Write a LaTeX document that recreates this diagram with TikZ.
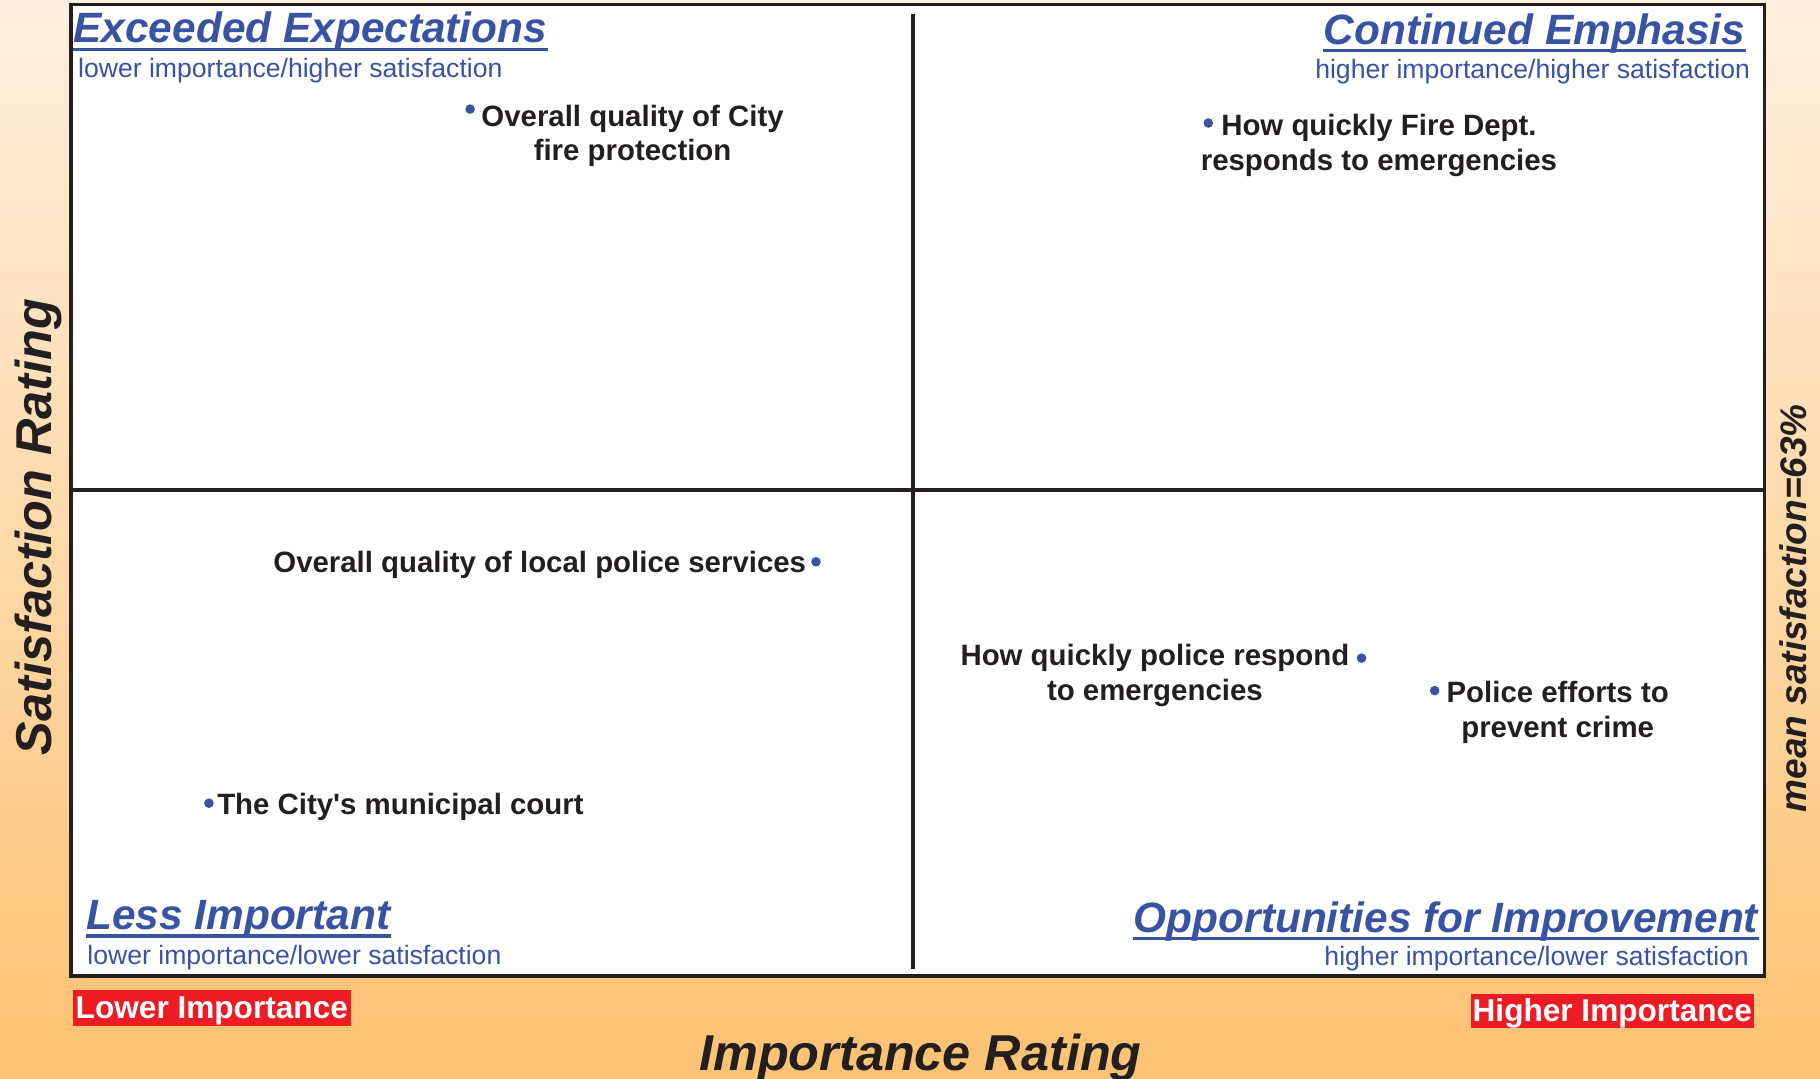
\documentclass[tikz,border=0pt]{standalone}
\usepackage{fontspec}
\setmainfont{Liberation Sans}
\usetikzlibrary{calc}
\definecolor{qblue}{HTML}{3953A4}
\definecolor{qred}{HTML}{ED1C24}
\definecolor{ink}{HTML}{231F20}
\definecolor{bgtop}{HTML}{FEF0E0}
\definecolor{bgbot}{HTML}{FDC272}
\begin{document}
\begin{tikzpicture}[x=0.58035pt,y=-0.58035pt,
  qtitle/.style={inner sep=0pt,text=qblue,font=\fontsize{21.2pt}{24pt}\selectfont\bfseries\itshape},
  qsub/.style={inner sep=0pt,text=qblue,font=\fontsize{13.3pt}{15pt}\selectfont},
  uline/.style={draw=qblue,line width=1.8pt},
  item/.style={inner sep=0pt,align=center,text=ink,font=\fontsize{14.7pt}{17.4pt}\selectfont\bfseries},
  dot/.style={circle,fill=qblue,inner sep=0pt,minimum size=4.8pt},
  axis/.style={inner sep=0pt,text=ink,font=\fontsize{25.2pt}{28pt}\selectfont\bfseries\itshape},
  meanlbl/.style={inner sep=0pt,text=ink,font=\fontsize{18.5pt}{21pt}\selectfont\bfseries\itshape},
  redtag/.style={fill=qred,text=white,inner sep=0pt,text height=11.3pt,text depth=0.9pt,font=\fontsize{15.8pt}{18pt}\selectfont\bfseries},
  frame/.style={draw=ink,line width=1.75pt,fill=white},
  divider/.style={draw=ink,line width=2pt}
]
\useasboundingbox (0,0) rectangle (1568,929);
\shade[top color=bgtop,bottom color=bgbot] (0,0) rectangle (1568,929);

% plot frame
\draw[frame] (61,4) rectangle (1520,841);
\coordinate (vtop) at (787,12);
\coordinate (vbot) at (787,835);
\coordinate (hl) at (61,422);
\coordinate (hr) at (1520,422);
\draw[divider] (vtop) -- (vbot);
\draw[divider] (hl) -- (hr);

% quadrant titles
\node[qtitle,anchor=base west] (tEE) at (63,37) {Exceeded Expectations};
\draw[uline] ($(tEE.base west)+(0,5.5)$) -- ($(tEE.base east)+(0,5.5)$);
\node[qsub,anchor=base west] (sEE) at (67,67) {lower importance/higher satisfaction};

\node[qtitle,anchor=base east] (tCE) at (1504,38) {Continued Emphasis};
\draw[uline] ($(tCE.base west)+(0,5.5)$) -- ($(tCE.base east)+(0,5.5)$);
\node[qsub,anchor=base east] (sCE) at (1508,68) {higher importance/higher satisfaction};

\node[qtitle,anchor=base west] (tLI) at (74,801) {Less Important};
\draw[uline] ($(tLI.base west)+(0,5.5)$) -- ($(tLI.base east)+(0,5.5)$);
\node[qsub,anchor=base west] (sLI) at (75,831) {lower importance/lower satisfaction};

\node[qtitle,anchor=base east] (tOI) at (1515,803) {Opportunities for Improvement};
\draw[uline] ($(tOI.base west)+(0,5.5)$) -- ($(tOI.base east)+(0,5.5)$);
\node[qsub,anchor=base east] (sOI) at (1507,832) {higher importance/lower satisfaction};

% data points
\node[dot] (dFire) at (405,94) {};
\node[item] (lFire) at (545,117) {Overall quality of City\\fire protection};

\node[dot] (dFD) at (1041,106) {};
\node[item] (lFD) at (1188,125) {How quickly Fire Dept.\\responds to emergencies};

\node[dot] (dPS) at (703,484) {};
\node[item] (lPS) at (465,487) {Overall quality of local police services};

\node[dot] (dPR) at (1173,567) {};
\node[item] (lPR) at (995,582) {How quickly police respond\\to emergencies};

\node[dot] (dCr) at (1236,595) {};
\node[item] (lCr) at (1342,614) {Police efforts to\\prevent crime};

\node[dot] (dCt) at (180,692) {};
\node[item] (lCt) at (345,695) {The City\textquotesingle s municipal court};

% axis labels
\node[axis,rotate=90] (ySat) at (33,454) {Satisfaction Rating};
\node[axis,anchor=base] (xImp) at (793,922) {Importance Rating};
\node[meanlbl,rotate=90] (mean) at (1545,524) {mean satisfaction=63\%};

\node[redtag,minimum width=138.7pt,minimum height=18pt] (lowI) at (182.5,868.5) {Lower Importance};
\node[redtag,minimum width=141.6pt,minimum height=17.4pt] (highI) at (1389,871) {Higher Importance};
\end{tikzpicture}
\end{document}
